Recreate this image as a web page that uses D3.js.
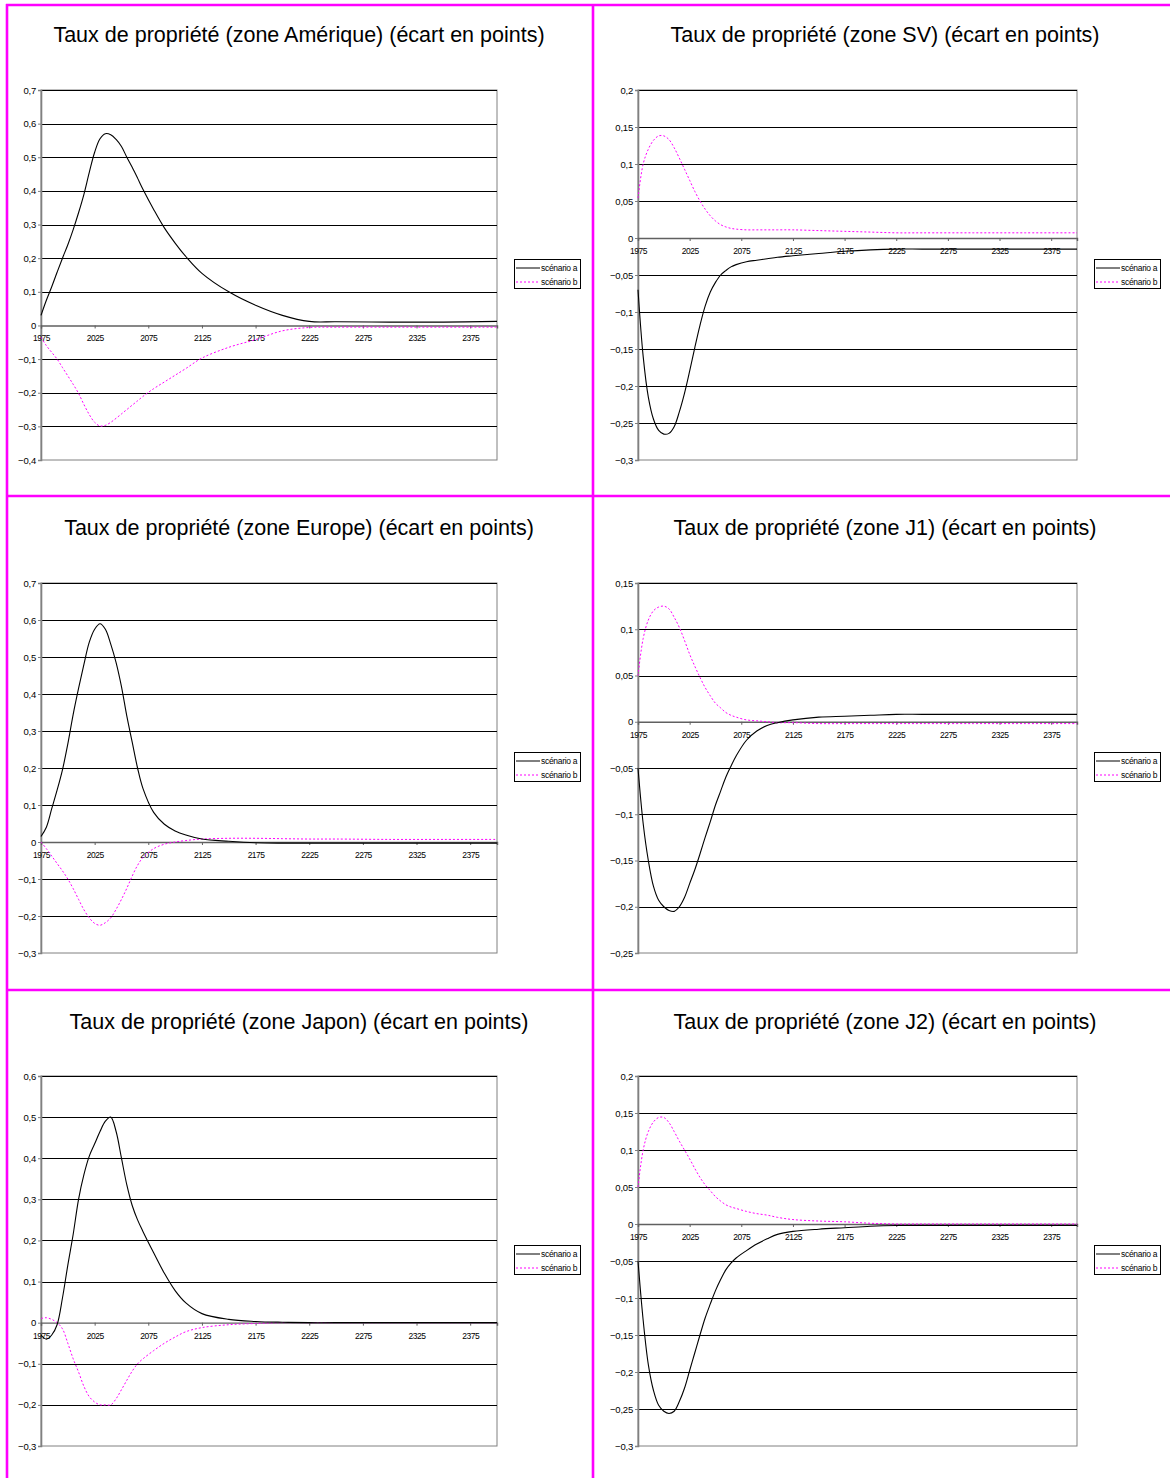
<!DOCTYPE html>
<html><head><meta charset="utf-8">
<script src="https://cdn.jsdelivr.net/npm/d3@7"></script>
<style>
body{margin:0;background:#fff}
svg{display:block}
text{font-family:"Liberation Sans",Arial,sans-serif;fill:#000}
</style>
</head><body><svg id="c" width="1170" height="1478"></svg>
<script>
// ---- data ----
const years = [1975,1980,1985,1990,1995,2000,2005,2010,2015,2020,2025,2030,2035,2040,2045,2050,2055,2060,2065,2070,2080,2090,2100,2110,2125,2150,2175,2200,2225,2250,2300,2350,2400];
const seriesNames = ["scénario a","scénario b"];
const xTickLabels = ["1975","2025","2075","2125","2175","2225","2275","2325","2375"];

const titles = [
  "Taux de propriété (zone Amérique) (écart en points)",
  "Taux de propriété (zone SV) (écart en points)",
  "Taux de propriété (zone Europe) (écart en points)",
  "Taux de propriété (zone J1) (écart en points)",
  "Taux de propriété (zone Japon) (écart en points)",
  "Taux de propriété (zone J2) (écart en points)"
];

const ameriqueA = [0.03,0.075,0.115,0.158,0.20,0.24,0.285,0.335,0.39,0.455,0.515,0.555,0.57,0.567,0.553,0.532,0.50,0.47,0.438,0.405,0.345,0.29,0.245,0.205,0.155,0.10,0.06,0.03,0.012,0.011,0.01,0.01,0.012];
const ameriqueB = [-0.035,-0.06,-0.08,-0.10,-0.125,-0.15,-0.175,-0.202,-0.235,-0.265,-0.288,-0.299,-0.297,-0.288,-0.276,-0.263,-0.25,-0.237,-0.224,-0.211,-0.188,-0.168,-0.148,-0.128,-0.097,-0.065,-0.042,-0.016,-0.006,-0.005,-0.005,-0.005,-0.005];

const svA = [-0.07,-0.16,-0.215,-0.245,-0.26,-0.265,-0.264,-0.255,-0.235,-0.21,-0.18,-0.148,-0.118,-0.092,-0.073,-0.06,-0.05,-0.044,-0.039,-0.036,-0.032,-0.03,-0.028,-0.026,-0.024,-0.021,-0.018,-0.016,-0.015,-0.015,-0.015,-0.015,-0.015];
const svB = [0.054,0.10,0.12,0.132,0.138,0.138,0.133,0.122,0.108,0.093,0.078,0.063,0.05,0.039,0.03,0.023,0.018,0.015,0.013,0.012,0.011,0.011,0.011,0.011,0.011,0.01,0.009,0.008,0.007,0.007,0.007,0.007,0.007];

const europeA = [0.015,0.04,0.09,0.14,0.195,0.265,0.345,0.415,0.48,0.54,0.575,0.59,0.575,0.535,0.485,0.42,0.34,0.27,0.2,0.145,0.08,0.048,0.03,0.019,0.008,0.002,-0.002,-0.003,-0.003,-0.003,-0.003,-0.003,-0.003];
const europeB = [0,-0.018,-0.038,-0.058,-0.078,-0.10,-0.126,-0.155,-0.183,-0.205,-0.22,-0.225,-0.218,-0.205,-0.182,-0.155,-0.125,-0.092,-0.063,-0.042,-0.018,-0.006,0.0,0.004,0.008,0.01,0.01,0.009,0.008,0.008,0.007,0.007,0.007];

const j1A = [-0.05,-0.11,-0.15,-0.178,-0.193,-0.2,-0.204,-0.205,-0.2,-0.19,-0.175,-0.16,-0.143,-0.125,-0.108,-0.09,-0.075,-0.06,-0.048,-0.037,-0.02,-0.01,-0.004,-0.001,0.002,0.005,0.006,0.007,0.008,0.008,0.008,0.008,0.008];
const j1B = [0.05,0.09,0.11,0.12,0.124,0.125,0.122,0.113,0.102,0.088,0.073,0.06,0.048,0.037,0.028,0.02,0.015,0.01,0.007,0.005,0.002,0.001,0.0,-0.001,-0.001,-0.002,-0.002,-0.002,-0.002,-0.002,-0.002,-0.002,-0.002];

const japonA = [-0.03,-0.04,-0.03,-0.005,0.06,0.14,0.215,0.3,0.36,0.405,0.435,0.465,0.49,0.5,0.465,0.4,0.335,0.285,0.25,0.222,0.17,0.12,0.078,0.048,0.022,0.008,0.003,0.001,0,0,0,0,0];
const japonB = [0.01,0.012,0.008,0.0,-0.015,-0.05,-0.088,-0.12,-0.155,-0.18,-0.193,-0.2,-0.2,-0.2,-0.185,-0.163,-0.14,-0.118,-0.1,-0.088,-0.068,-0.05,-0.035,-0.022,-0.012,-0.005,-0.002,0,0,0,0,0,0];

const j2A = [-0.05,-0.13,-0.19,-0.225,-0.245,-0.253,-0.256,-0.253,-0.24,-0.222,-0.198,-0.174,-0.15,-0.127,-0.108,-0.09,-0.075,-0.062,-0.053,-0.046,-0.036,-0.027,-0.02,-0.014,-0.01,-0.007,-0.005,-0.003,-0.002,-0.002,-0.002,-0.002,-0.002];
const j2B = [0.05,0.1,0.125,0.138,0.144,0.144,0.137,0.125,0.112,0.1,0.088,0.075,0.063,0.053,0.045,0.037,0.031,0.026,0.023,0.021,0.017,0.014,0.012,0.009,0.006,0.004,0.003,0.001,0,0,0,0,0];

const ticksAmerique = [0.7,0.6,0.5,0.4,0.3,0.2,0.1,0,-0.1,-0.2,-0.3,-0.4];
const ticksSV = [0.2,0.15,0.1,0.05,0,-0.05,-0.1,-0.15,-0.2,-0.25,-0.3];
const ticksEurope = [0.7,0.6,0.5,0.4,0.3,0.2,0.1,0,-0.1,-0.2,-0.3];
const ticksJ1 = [0.15,0.1,0.05,0,-0.05,-0.1,-0.15,-0.2,-0.25];
const ticksJapon = [0.6,0.5,0.4,0.3,0.2,0.1,0,-0.1,-0.2,-0.3];
const ticksJ2 = [0.2,0.15,0.1,0.05,0,-0.05,-0.1,-0.15,-0.2,-0.25,-0.3];

const panels = [
  {title:titles[0], a:ameriqueA, b:ameriqueB, ticks:ticksAmerique},
  {title:titles[1], a:svA, b:svB, ticks:ticksSV},
  {title:titles[2], a:europeA, b:europeB, ticks:ticksEurope},
  {title:titles[3], a:j1A, b:j1B, ticks:ticksJ1},
  {title:titles[4], a:japonA, b:japonB, ticks:ticksJapon},
  {title:titles[5], a:j2A, b:j2B, ticks:ticksJ2}
];

// ---- layout ----
const svg = d3.select("#c");
const MAG = "#ff00ff";
const colX = [{x0:41, x1:497, cx:299}, {x0:638, x1:1077, cx:885}];
const rowY = [{y0:90, y1:460, ty:42}, {y0:583, y1:953, ty:535}, {y0:1076, y1:1446, ty:1029}];

const fmt = v => (v === 0 ? "0" : d3.format("")(+v.toFixed(2))).replace(".", ",");

panels.forEach((p, i) => {
  const c = colX[i % 2], r = rowY[Math.floor(i / 2)];
  const g = svg.append("g");
  const x = d3.scaleLinear().domain([1975, 2400]).range([c.x0, c.x1]);
  const y = d3.scaleLinear().domain([d3.min(p.ticks), d3.max(p.ticks)]).range([r.y1, r.y0]);

  g.append("text").attr("x", c.cx).attr("y", r.ty).attr("text-anchor", "middle")
    .style("font-size", "21.5px").text(p.title);

  // plot border
  g.append("rect").attr("x", c.x0).attr("y", r.y0).attr("width", c.x1 - c.x0).attr("height", r.y1 - r.y0)
    .attr("fill", "none").attr("stroke", "#808080").attr("stroke-width", 1);

  // gridlines
  g.selectAll("line.grid").data(p.ticks.filter(t => t !== 0 && t !== d3.min(p.ticks)))
    .join("line").attr("class", "grid")
    .attr("x1", c.x0).attr("x2", c.x1)
    .attr("y1", d => Math.round(y(d)) + 0.5).attr("y2", d => Math.round(y(d)) + 0.5)
    .attr("stroke", "#000").attr("stroke-width", 1);

  // y axis
  const ya = g.append("g").attr("transform", `translate(${c.x0},0)`)
    .call(d3.axisLeft(y).tickValues(p.ticks).tickSize(3).tickPadding(2).tickFormat(fmt));
  ya.select(".domain").attr("stroke", "#808080").attr("stroke-width", 1.6);
  ya.selectAll(".tick line").attr("stroke", "#808080");
  ya.selectAll("text").style("font-size", "9.5px").style("letter-spacing", "-0.2px")
    .style("font-family", '"Liberation Sans",Arial,sans-serif');

  // x axis at zero
  const xa = g.append("g").attr("transform", `translate(0,${y(0)})`)
    .call(d3.axisBottom(x).tickValues(xTickLabels.map(Number)).tickSize(3).tickPadding(7).tickFormat(d => String(d)));
  xa.select(".domain").attr("stroke", "#606060").attr("stroke-width", 1.4);
  xa.selectAll(".tick line").attr("stroke", "#606060");
  xa.selectAll("text").style("font-size", "8.5px").style("letter-spacing", "-0.5px")
    .style("font-family", '"Liberation Sans",Arial,sans-serif');

  const line = d3.line().x((d, k) => x(years[k])).y(d => y(d)).curve(d3.curveCatmullRom.alpha(0.5));
  g.append("path").attr("d", line(p.b)).attr("fill", "none").attr("stroke", MAG)
    .attr("stroke-width", 1).attr("stroke-dasharray", "2,2");
  g.append("path").attr("d", line(p.a)).attr("fill", "none").attr("stroke", "#000")
    .attr("stroke-width", 1.1);

  // legend
  const lx = c.x1 + 17, ly = (r.y0 + r.y1) / 2 - 16;
  const lg = g.append("g").attr("transform", `translate(${lx},${ly})`);
  lg.append("rect").attr("x", 0.5).attr("y", 0.5).attr("width", 66).attr("height", 29)
    .attr("fill", "#fff").attr("stroke", "#000").attr("stroke-width", 1);
  seriesNames.forEach((n, k) => {
    const yy = 9 + k * 14;
    lg.append("line").attr("x1", 2).attr("x2", 26).attr("y1", yy).attr("y2", yy)
      .attr("stroke", k === 0 ? "#000" : MAG).attr("stroke-width", 1)
      .attr("stroke-dasharray", k === 0 ? null : "2,2");
    lg.append("text").attr("x", 27).attr("y", yy + 3).style("font-size", "8.5px")
      .style("letter-spacing", "-0.3px").text(n);
  });
});

// magenta frame
const frame = svg.append("g").attr("stroke", MAG).attr("stroke-width", 2.6);
[5, 496, 990].forEach(yy => frame.append("line").attr("x1", 6).attr("x2", 1170).attr("y1", yy).attr("y2", yy));
[7, 593].forEach(xx => frame.append("line").attr("x1", xx).attr("x2", xx).attr("y1", 4).attr("y2", 1478));
</script>
</body></html>
